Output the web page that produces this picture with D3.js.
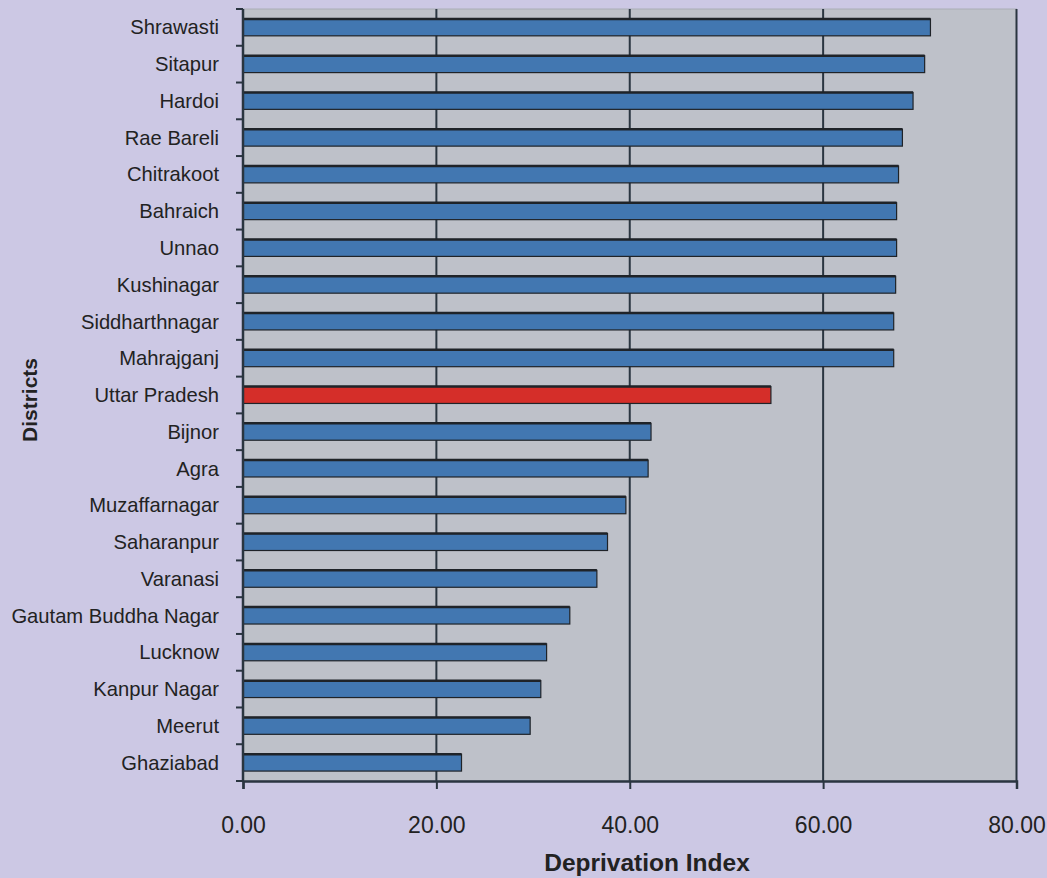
<!DOCTYPE html>
<html>
<head>
<meta charset="utf-8">
<script src="https://cdn.jsdelivr.net/npm/d3@7"></script>
<style>
  body { margin: 0; background: #ccc8e4; }
  svg { display: block; font-family: "Liberation Sans", Arial, sans-serif; }
</style>
</head>
<body>
<div id="chart"></div>
<script>
// districts from top to bottom
const districts = ["Shrawasti", "Sitapur", "Hardoi", "Rae Bareli", "Chitrakoot", "Bahraich", "Unnao",
  "Kushinagar", "Siddharthnagar", "Mahrajganj", "Uttar Pradesh", "Bijnor", "Agra", "Muzaffarnagar",
  "Saharanpur", "Varanasi", "Gautam Buddha Nagar", "Lucknow", "Kanpur Nagar", "Meerut", "Ghaziabad"];
const deprivation = [71.1, 70.5, 69.3, 68.2, 67.8, 67.6, 67.6, 67.5, 67.3, 67.3, 54.6,
  42.2, 41.9, 39.6, 37.7, 36.6, 33.8, 31.4, 30.8, 29.7, 22.6];
const highlight = "Uttar Pradesh";
const xTicks = [0, 20, 40, 60, 80];

const data = districts.map((d, i) => ({ name: d, value: deprivation[i] }));

const W = 1047, H = 878;
const margin = { top: 9, right: 30.5, bottom: 97, left: 243 };
const width = W - margin.left - margin.right;
const height = H - margin.top - margin.bottom;
const dark = "#2a3540";

const svg = d3.select("#chart").append("svg")
    .attr("width", W)
    .attr("height", H);

const g = svg.append("g")
    .attr("transform", `translate(${margin.left},${margin.top})`);

const x = d3.scaleLinear().domain([0, 80]).range([0, width]);
const y = d3.scaleBand().domain(districts).range([0, height]).paddingInner(0.54).paddingOuter(0.27);

// plot background
g.append("rect")
    .attr("width", width)
    .attr("height", height)
    .attr("fill", "#bec1c9")
    .attr("stroke", "#a9adb5")
    .attr("stroke-width", 1);

// vertical grid lines
g.selectAll(".grid").data(xTicks.slice(1))
  .join("line")
    .attr("x1", d => x(d)).attr("x2", d => x(d))
    .attr("y1", 0).attr("y2", height)
    .attr("stroke", dark)
    .attr("stroke-width", 2);

// bars
g.selectAll(".bar").data(data)
  .join("rect")
    .attr("x", 0)
    .attr("y", d => y(d.name))
    .attr("width", d => x(d.value))
    .attr("height", y.bandwidth())
    .attr("fill", d => d.name === highlight ? "#d52e29" : "#4277b1")
    .attr("stroke", "#1f2328")
    .attr("stroke-width", 1.2);

// top edge of each bar is darker
g.selectAll(".bartop").data(data)
  .join("line")
    .attr("x1", 0)
    .attr("x2", d => x(d.value))
    .attr("y1", d => y(d.name))
    .attr("y2", d => y(d.name))
    .attr("stroke", "#1f2328")
    .attr("stroke-width", 2.5);

// x axis
const xAxis = g.append("g")
    .attr("transform", `translate(0,${height})`)
    .call(d3.axisBottom(x).tickValues(xTicks).tickFormat(d3.format(".2f")).tickSize(8).tickPadding(28));
xAxis.select(".domain").attr("stroke", dark).attr("stroke-width", 2.5);
xAxis.selectAll(".tick line").attr("stroke", dark).attr("stroke-width", 2);
xAxis.selectAll("text")
    .attr("fill", "#222")
    .style("font-size", "23px")
    .style("font-family", "'Liberation Sans', Arial, sans-serif");

// y axis: ticks sit on the band boundaries
const boundaries = d3.range(districts.length + 1).map(i => i * height / districts.length);
g.append("line")
    .attr("x1", 0).attr("x2", 0)
    .attr("y1", 0).attr("y2", height)
    .attr("stroke", dark)
    .attr("stroke-width", 2.5);
g.selectAll(".ytick").data(boundaries)
  .join("line")
    .attr("x1", -7).attr("x2", 0)
    .attr("y1", d => d).attr("y2", d => d)
    .attr("stroke", dark)
    .attr("stroke-width", 2);

g.selectAll(".ylabel").data(districts)
  .join("text")
    .attr("x", -24)
    .attr("y", d => y(d) + y.bandwidth() / 2)
    .attr("dy", "0.35em")
    .attr("text-anchor", "end")
    .attr("fill", "#222")
    .style("font-size", "20.2px")
    .text(d => d);

// axis titles
svg.append("text")
    .attr("x", 647)
    .attr("y", 871)
    .attr("text-anchor", "middle")
    .attr("fill", "#222")
    .style("font-size", "24.5px")
    .style("font-weight", "bold")
    .text("Deprivation Index");

svg.append("text")
    .attr("transform", "translate(37,400) rotate(-90)")
    .attr("text-anchor", "middle")
    .attr("fill", "#222")
    .style("font-size", "21px")
    .style("font-weight", "bold")
    .text("Districts");
</script>
</body>
</html>
